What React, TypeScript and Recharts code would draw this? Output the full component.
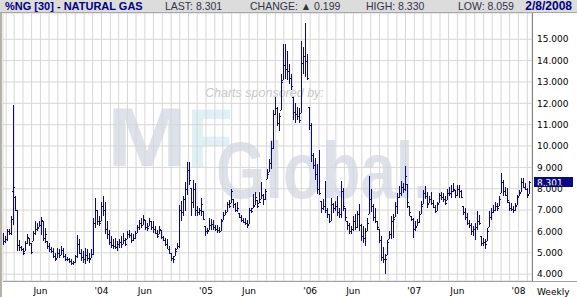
import React from 'react';
import { ComposedChart, Bar, XAxis, YAxis, CartesianGrid, ReferenceLine } from 'recharts';

// Weekly bars, first week ending Fri 2003-01-24, last week ending Fri 2008-02-08
const firstWeek = { year: 2003, month: 0, day: 24 };

const opens = [
  5.75, 5.55, 5.65, 6.00, 5.95, 7.90, 7.60, 7.00, 5.35, 5.25,
  5.20, 5.08, 5.45, 5.70, 5.45, 5.54, 5.95, 6.10, 6.20, 6.30,
  6.47, 5.70, 5.54, 5.30, 5.20, 5.10, 4.85, 4.77, 5.00, 4.92,
  5.15, 4.85, 4.70, 4.70, 4.60, 4.50, 4.55, 4.85, 5.40, 5.00,
  4.80, 4.70, 4.90, 4.75, 4.77, 4.95, 6.40, 7.00, 6.50, 6.47,
  7.20, 7.00, 6.10, 5.90, 5.50, 5.35, 5.30, 5.25, 5.40, 5.50,
  5.40, 5.60, 5.63, 5.90, 5.85, 5.60, 5.70, 5.95, 6.20, 6.40,
  6.32, 6.55, 6.20, 6.24, 6.48, 6.20, 6.10, 5.95, 5.86, 6.09,
  5.75, 5.60, 5.40, 5.20, 5.00, 4.75, 4.85, 5.16, 5.30, 7.00,
  6.90, 7.50, 8.00, 8.90, 8.02, 7.40, 8.00, 7.00, 6.90, 7.00,
  6.94, 6.24, 6.00, 6.09, 6.30, 6.35, 6.20, 6.10, 6.05, 6.00,
  6.55, 6.77, 6.92, 7.30, 7.31, 7.54, 7.30, 7.00, 6.85, 6.70,
  6.55, 6.45, 6.40, 6.35, 7.00, 7.08, 7.23, 7.46, 7.31, 7.54,
  7.70, 7.50, 8.46, 8.77, 9.20, 9.90, 11.50, 11.80, 11.10, 11.69,
  13.08, 13.80, 13.60, 13.50, 13.20, 12.31, 11.60, 11.50, 11.40, 11.54,
  13.90, 14.20, 14.00, 11.85, 11.00, 9.60, 9.10, 8.70, 8.00, 7.42,
  7.10, 7.20, 7.00, 6.80, 6.50, 7.30, 7.10, 7.20, 6.90, 6.80,
  7.90, 7.11, 6.48, 6.30, 6.00, 6.10, 6.50, 6.20, 6.80, 6.30,
  5.80, 5.70, 6.02, 6.80, 7.50, 7.20, 6.70, 6.48, 6.10, 5.60,
  4.80, 4.70, 4.90, 5.63, 5.90, 6.50, 6.70, 7.20, 7.60, 7.80,
  8.10, 8.00, 8.20, 7.19, 6.72, 6.60, 6.10, 6.25, 6.45, 6.80,
  7.30, 7.80, 7.65, 7.33, 7.50, 7.35, 7.15, 6.95, 7.33, 7.70,
  7.60, 7.50, 7.48, 7.80, 7.80, 7.90, 7.95, 7.70, 8.00, 7.90,
  7.17, 6.90, 6.70, 6.40, 6.30, 6.00, 6.10, 6.20, 6.50, 5.78,
  5.45, 5.50, 5.56, 6.20, 6.70, 6.90, 7.00, 7.20, 7.17, 7.79,
  8.30, 7.90, 7.70, 7.40, 7.10, 7.05, 7.00, 7.25, 7.64, 7.87,
  8.30, 8.10, 8.00, 7.75,
];

const highs = [
  5.93, 5.80, 6.10, 6.10, 6.71, 11.93, 7.64, 7.00, 5.60, 5.31,
  5.23, 5.54, 5.88, 5.70, 5.47, 6.00, 6.47, 6.40, 6.47, 6.66,
  6.47, 6.16, 5.54, 5.47, 5.26, 5.23, 5.00, 5.23, 5.16, 5.31,
  5.23, 4.95, 4.81, 4.77, 4.69, 4.61, 4.92, 5.85, 5.67, 5.16,
  5.08, 5.23, 5.16, 5.00, 5.16, 6.63, 7.56, 7.02, 6.71, 7.40,
  7.64, 7.40, 6.48, 6.09, 5.78, 5.63, 5.70, 5.55, 5.63, 5.78,
  5.93, 5.70, 6.01, 6.09, 5.93, 5.86, 6.01, 6.32, 6.55, 6.63,
  6.79, 6.55, 6.40, 6.63, 6.48, 6.48, 6.24, 6.09, 6.24, 6.09,
  5.78, 5.70, 5.63, 5.32, 5.00, 4.85, 5.24, 5.47, 7.25, 7.41,
  7.64, 8.33, 9.26, 9.26, 8.02, 8.41, 8.26, 7.17, 7.10, 7.56,
  6.94, 6.24, 6.17, 6.63, 6.58, 6.54, 6.31, 6.31, 6.23, 6.60,
  6.90, 7.00, 7.38, 7.46, 8.00, 7.54, 7.31, 7.38, 6.85, 6.77,
  6.62, 6.62, 6.54, 7.10, 7.08, 7.77, 7.85, 7.46, 7.85, 8.31,
  7.77, 8.00, 8.92, 9.38, 10.23, 11.69, 12.31, 11.85, 11.54, 13.38,
  14.77, 14.77, 14.46, 13.85, 13.38, 12.31, 12.00, 11.85, 11.77, 14.92,
  14.62, 15.77, 14.31, 11.85, 11.08, 9.69, 9.45, 9.15, 9.80, 7.42,
  7.50, 8.36, 7.11, 6.80, 7.58, 7.34, 7.42, 7.66, 7.11, 8.36,
  8.05, 7.11, 6.48, 6.41, 6.25, 6.72, 6.80, 6.95, 7.27, 6.33,
  6.25, 6.17, 6.64, 8.59, 8.00, 7.27, 7.11, 6.48, 6.10, 5.80,
  5.25, 4.95, 5.60, 6.02, 6.72, 6.80, 7.40, 7.81, 8.13, 8.36,
  8.25, 9.06, 8.20, 7.19, 6.72, 6.64, 6.48, 6.56, 6.95, 7.42,
  7.95, 8.15, 7.87, 7.64, 7.87, 7.48, 7.25, 7.40, 7.79, 7.87,
  7.79, 7.64, 7.98, 8.10, 8.18, 8.26, 7.95, 8.18, 8.18, 7.95,
  7.17, 7.09, 6.86, 6.55, 6.40, 6.24, 6.40, 6.94, 6.78, 5.78,
  5.71, 5.64, 6.18, 6.94, 7.09, 7.25, 7.40, 7.33, 7.64, 8.72,
  8.41, 8.10, 8.02, 7.40, 7.33, 7.17, 7.33, 7.71, 7.95, 8.49,
  8.49, 8.26, 8.02, 8.35,
];

const lows = [
  5.36, 5.45, 5.54, 5.85, 5.85, 6.30, 6.94, 5.10, 5.10, 5.08,
  4.92, 5.08, 5.39, 5.31, 4.95, 5.54, 5.85, 6.00, 6.20, 5.85,
  5.54, 5.47, 5.16, 5.05, 5.00, 4.77, 4.61, 4.77, 4.74, 4.92,
  4.77, 4.61, 4.61, 4.53, 4.43, 4.43, 4.53, 4.74, 4.95, 4.61,
  4.50, 4.46, 4.61, 4.53, 4.77, 4.92, 6.16, 6.29, 6.24, 6.47,
  6.71, 5.90, 5.65, 5.35, 5.24, 5.16, 5.16, 5.08, 5.24, 5.24,
  5.39, 5.32, 5.63, 5.70, 5.47, 5.55, 5.63, 5.93, 6.09, 6.17,
  6.32, 6.09, 6.01, 6.24, 6.09, 5.93, 5.86, 5.70, 5.86, 5.63,
  5.55, 5.32, 5.16, 4.93, 4.62, 4.54, 4.85, 5.16, 5.24, 6.48,
  6.71, 6.94, 7.72, 8.18, 6.71, 7.10, 6.71, 6.71, 6.79, 6.71,
  6.55, 5.78, 5.86, 6.09, 6.09, 6.08, 6.00, 5.92, 5.92, 6.00,
  6.55, 6.77, 6.92, 7.08, 7.31, 7.08, 6.92, 6.92, 6.62, 6.46,
  6.38, 6.31, 6.15, 6.35, 6.85, 7.08, 7.23, 7.08, 7.31, 7.54,
  7.23, 7.46, 8.46, 8.77, 8.92, 9.85, 11.46, 10.92, 10.69, 11.69,
  13.08, 13.15, 13.08, 12.92, 12.62, 11.23, 11.08, 11.23, 11.08, 11.54,
  13.38, 13.23, 13.08, 10.77, 9.23, 8.92, 8.40, 7.75, 7.70, 6.88,
  7.00, 6.88, 6.64, 6.41, 6.50, 6.88, 6.95, 6.72, 6.64, 6.64,
  6.95, 6.48, 6.09, 5.86, 5.86, 6.02, 6.09, 6.17, 6.02, 5.55,
  5.47, 5.31, 6.02, 6.80, 6.90, 6.48, 6.41, 6.09, 5.45, 4.60,
  4.50, 4.02, 4.90, 5.63, 5.63, 5.70, 6.70, 6.80, 7.58, 7.66,
  7.80, 7.90, 7.10, 6.72, 6.48, 5.70, 6.02, 6.25, 6.41, 6.80,
  7.30, 7.50, 7.09, 7.33, 7.25, 7.09, 6.86, 6.94, 7.33, 7.48,
  7.40, 7.25, 7.48, 7.64, 7.56, 7.87, 7.56, 7.64, 7.56, 7.56,
  6.78, 6.55, 6.32, 6.16, 5.85, 5.78, 5.62, 6.09, 6.32, 5.31,
  5.31, 5.16, 5.56, 6.20, 6.55, 6.86, 6.94, 6.94, 7.17, 7.79,
  7.64, 7.64, 7.33, 6.94, 6.94, 6.86, 6.94, 7.25, 7.64, 7.87,
  8.02, 7.95, 7.56, 7.75,
];

const closes = [
  5.55, 5.65, 6.00, 5.95, 6.60, 8.10, 7.00, 5.35, 5.25, 5.20,
  5.00, 5.45, 5.75, 5.45, 5.05, 5.95, 6.10, 6.15, 6.30, 6.55,
  5.70, 5.90, 5.30, 5.20, 5.10, 4.85, 4.70, 5.00, 4.90, 5.15,
  4.85, 4.70, 4.70, 4.60, 4.50, 4.55, 4.85, 5.40, 5.00, 4.80,
  4.70, 4.90, 4.75, 4.70, 4.95, 6.40, 7.00, 6.50, 6.40, 7.20,
  7.00, 6.10, 5.90, 5.50, 5.35, 5.30, 5.25, 5.40, 5.50, 5.40,
  5.60, 5.40, 5.90, 5.85, 5.60, 5.70, 5.95, 6.20, 6.40, 6.30,
  6.60, 6.20, 6.15, 6.50, 6.20, 6.10, 5.95, 5.80, 6.10, 5.75,
  5.60, 5.40, 5.20, 5.00, 4.75, 4.70, 5.10, 5.30, 7.00, 6.90,
  7.50, 8.00, 8.90, 8.40, 7.40, 8.00, 7.00, 6.90, 7.00, 7.30,
  6.60, 6.00, 6.00, 6.30, 6.35, 6.20, 6.10, 6.05, 6.00, 6.50,
  6.75, 6.90, 7.30, 7.20, 7.90, 7.30, 7.00, 7.10, 6.70, 6.55,
  6.45, 6.40, 6.30, 7.00, 6.95, 7.20, 7.60, 7.20, 7.40, 7.70,
  7.50, 7.90, 8.70, 9.20, 9.90, 11.50, 11.80, 11.10, 11.40, 13.00,
  13.80, 13.60, 13.50, 13.20, 12.80, 11.60, 11.50, 11.40, 11.20, 13.90,
  14.20, 14.00, 13.20, 11.00, 9.60, 9.10, 8.70, 8.00, 7.80, 7.10,
  7.20, 7.00, 6.80, 6.50, 7.30, 7.10, 7.20, 6.90, 6.80, 7.90,
  7.20, 6.70, 6.30, 6.00, 6.10, 6.50, 6.20, 6.80, 6.30, 5.80,
  5.70, 6.00, 6.40, 7.50, 7.20, 6.70, 6.50, 6.20, 5.60, 4.80,
  4.70, 4.70, 5.50, 5.90, 6.50, 6.60, 7.20, 7.60, 7.80, 8.10,
  8.00, 8.60, 7.40, 6.90, 6.60, 6.10, 6.20, 6.45, 6.80, 7.20,
  7.80, 7.65, 7.30, 7.50, 7.35, 7.15, 6.95, 7.30, 7.70, 7.60,
  7.50, 7.35, 7.80, 7.80, 7.90, 8.00, 7.70, 8.00, 7.90, 7.60,
  6.90, 6.70, 6.40, 6.30, 6.00, 6.10, 6.20, 6.50, 6.40, 5.45,
  5.50, 5.40, 6.00, 6.70, 6.90, 7.00, 7.20, 7.10, 7.50, 8.30,
  7.90, 7.70, 7.45, 7.10, 7.05, 7.00, 7.20, 7.60, 7.80, 8.30,
  8.10, 8.00, 7.70, 8.301,
];

const yTicks = [4, 5, 6, 7, 8, 9, 10, 11, 12, 13, 14, 15];
const yDomain: [number, number] = [3.68, 16.23];
const xDomain: [number, number] = [-3.15, 1850.4];

const header = {
  title: '%NG [30] - NATURAL GAS',
  last: 'LAST: 8.301',
  change: 'CHANGE: \u25B2 0.199',
  high: 'HIGH: 8.330',
  low: 'LOW: 8.059',
  date: '2/8/2008',
};

const NAVY = '#0a0a80';
const DAY_MS = 86400000;
const firstWeekUTC = Date.UTC(firstWeek.year, firstWeek.month, firstWeek.day);

const data = closes.map((c, i) => ({
  day: i * 7,
  open: opens[i],
  high: highs[i],
  low: lows[i],
  close: c,
}));

// month-start ticks (grid), labelled at January and June
const monthTicks: number[] = [];
const monthLabels: Record<string, string> = {};
for (let y = 2003; y <= 2008; y++) {
  for (let m = 0; m < 12; m++) {
    const d = (Date.UTC(y, m, 1) - firstWeekUTC) / DAY_MS;
    if (d < xDomain[0] || d > xDomain[1]) continue;
    monthTicks.push(d);
    monthLabels[String(d)] = m === 0 ? "'" + String(y).slice(2) : m === 5 ? 'Jun' : '';
  }
}

const OhlcShape = (props: any) => {
  const { x, y, width, height, payload } = props;
  if (x == null || y == null || !payload) return null;
  const top = Math.min(y, y + height);
  const h = Math.abs(height);
  const cx = Math.round(x + width / 2);
  const range = payload.high - payload.low;
  const yAt = (v: number) => Math.round(top + (range > 0 ? ((payload.high - v) / range) * h : 0));
  const t = Math.round(top);
  const b = Math.round(top + h);
  return (
    <g fill={NAVY} shapeRendering="crispEdges">
      <rect x={cx} y={t} width={1} height={Math.max(1, b - t)} />
      <rect x={cx - 1} y={yAt(payload.open)} width={1} height={1} />
      <rect x={cx + 1} y={yAt(payload.close)} width={1} height={1} />
    </g>
  );
};

const LastLabel = (props: any) => {
  const vb = props.viewBox || {};
  const right = (vb.x || 0) + (vb.width || 0);
  const cy = vb.y || 0;
  return (
    <g>
      <rect x={right + 2} y={Math.round(cy - 5)} width={39} height={10} fill={NAVY} shapeRendering="crispEdges" />
      <text x={right + 5} y={cy} dy="0.36em" fontSize={9} fontFamily="DejaVu Sans" fill="#ffffff">
        {props.text}
      </text>
    </g>
  );
};

const lastClose = closes[closes.length - 1];

export default function App() {
  const sans = 'Liberation Sans, Arial, sans-serif';
  return (
    <div
      style={{
        position: 'absolute',
        left: 0,
        top: 0,
        width: 577,
        height: 297,
        background: '#ffffff',
        overflow: 'hidden',
      }}
    >
      {/* watermark behind the chart */}
      <svg width={577} height={297} style={{ position: 'absolute', left: 0, top: 0 }}>
        <text x={107} y={166} fontFamily={sans} fontWeight="bold" fontSize={83} fill="#dde2ea" textLength={80} lengthAdjust="spacingAndGlyphs">M</text>
        <text x={187} y={167} fontFamily={sans} fontWeight="bold" fontSize={83} fill="#e0f0f7" textLength={46} lengthAdjust="spacingAndGlyphs">F</text>
        <text x={216} y={198} fontFamily={sans} fontWeight="bold" fontSize={80} fill="#dde1ea" textLength={215} lengthAdjust="spacingAndGlyphs">Global.</text>
        <text x={205} y={97} fontFamily={sans} fontStyle="italic" fontSize={12.5} fill="#c6c6c6">Charts sponsored by:</text>
      </svg>

      <div style={{ position: 'absolute', left: 0, top: 0 }}>
        <ComposedChart
          width={577}
          height={297}
          data={data}
          margin={{ top: 13, right: 0, bottom: 0, left: 3 }}
        >
          <CartesianGrid stroke="#d6d6d6" strokeWidth={1} />
          <XAxis
            dataKey="day"
            type="number"
            domain={xDomain}
            allowDataOverflow
            ticks={monthTicks}
            interval={0}
            tickFormatter={(v: number) => monthLabels[String(v)] ?? ''}
            height={16}
            tickSize={0}
            tickMargin={7}
            axisLine={false}
            tickLine={false}
            tick={{ fontSize: 9, fontFamily: 'DejaVu Sans', fill: '#000000' }}
          />
          <YAxis
            orientation="right"
            type="number"
            domain={yDomain}
            allowDataOverflow
            ticks={yTicks}
            interval={0}
            width={45}
            tickSize={0}
            tickMargin={5}
            axisLine={false}
            tickLine={false}
            tickFormatter={(v: number) => v.toFixed(3)}
            tick={{ fontSize: 9, fontFamily: 'DejaVu Sans', fill: '#000000' }}
          />
          <Bar
            dataKey={(d: any) => [d.low, d.high]}
            barSize={1}
            shape={(p: any) => <OhlcShape {...p} />}
            isAnimationActive={false}
          />
          <ReferenceLine
            y={lastClose}
            stroke="none"
            ifOverflow="visible"
            label={<LastLabel text={lastClose.toFixed(3)} />}
          />
        </ComposedChart>
      </div>

      {/* frame, header and axis lines */}
      <svg width={577} height={297} style={{ position: 'absolute', left: 0, top: 0, pointerEvents: 'none' }} shapeRendering="crispEdges">
        <rect x={0} y={0} width={577} height={12} fill="#dcdcdc" />
        <rect x={0} y={12} width={577} height={1} fill="#a8a8a8" />
        <rect x={0} y={12} width={2} height={285} fill="#b6b1a5" />
        <rect x={3} y={281} width={574} height={1} fill="#a0a0a0" />
        <rect x={532} y={13} width={1} height={268} fill="#808080" />
        <g shapeRendering="auto">
          <text x={5} y={10} fontFamily={sans} fontWeight="bold" fontSize={11} fill="#000080">{header.title}</text>
          <text x={165} y={10} fontFamily={sans} fontSize={10.5} fill="#33334a">{header.last}</text>
          <text x={250} y={10} fontFamily={sans} fontSize={10.5} fill="#33334a">{header.change}</text>
          <text x={366} y={10} fontFamily={sans} fontSize={10.5} fill="#33334a">{header.high}</text>
          <text x={458} y={10} fontFamily={sans} fontSize={10.5} fill="#33334a">{header.low}</text>
          <text x={572} y={10} textAnchor="end" fontFamily={sans} fontWeight="bold" fontSize={12} fill="#000080">{header.date}</text>
          <text x={537} y={294.5} fontFamily="DejaVu Sans" fontSize={9} fill="#000000">Weekly</text>
        </g>
      </svg>
    </div>
  );
}
